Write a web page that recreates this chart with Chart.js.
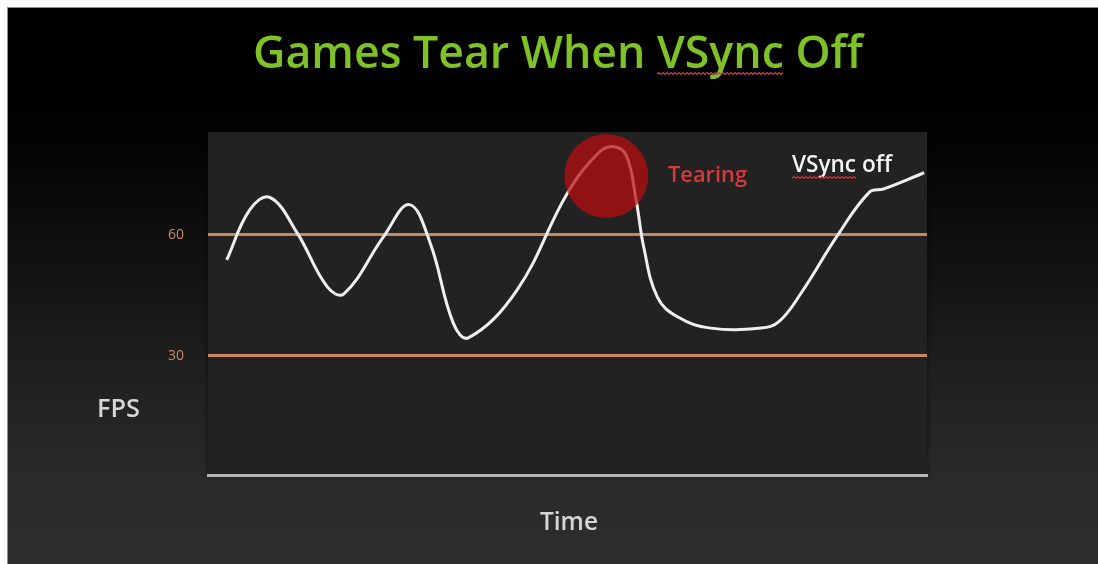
<!DOCTYPE html>
<html>
<head>
<meta charset="utf-8">
<script src="https://cdn.jsdelivr.net/npm/chart.js@4/dist/chart.umd.min.js"></script>
<style>
  html, body { margin: 0; padding: 0; overflow: hidden; }
  html { background: linear-gradient(to bottom, #ffffff 0px, #ffffff 7px, #8a8a8a 7px, #000000 8px, #020202 22%, #111111 45%, #1f1f1f 65%, #292929 82%, #2d2d2d 100%); min-height: 100%; }
  body { background: transparent; }
  canvas { position: absolute; left: 0; top: 0; }
</style>
</head>
<body>
<canvas id="c" width="1098" height="564"></canvas>
<script>
// ---- data ----
const timePoints = [2.6, 5.8, 8.6, 12.4, 16.6, 18.9, 24.4, 28.0, 30.9, 34.1, 36.2, 43.0, 50.0, 54.3, 56.3, 58.2, 59.6, 60.6, 62.5, 65.3, 69.9, 76.9, 79.4, 82.5, 87.6, 92.0, 94.0, 99.6];
const fpsValues  = [53.8, 66.2, 69.3, 60.5, 47.1, 45.4, 59.5, 67.5, 58.0, 38.2, 34.5, 46.4, 70.4, 80.3, 81.9, 79.6, 68.0, 57.0, 44.6, 39.7, 36.9, 36.9, 38.5, 45.6, 60.0, 70.6, 71.4, 75.4];
const yTickValues = [30, 60];
const tearingPoint = { time: 55.4, fps: 74.6 };
const titleText = "Games Tear When VSync Off";
const yLabelText = "FPS";
const xLabelText = "Time";
const tearingText = "Tearing";
const seriesText = "VSync off";

const lineData = timePoints.map((t, i) => ({ x: t, y: fpsValues[i] }));

function fitFont(ctx, text, weight, family, width) {
  ctx.font = weight + " 40px " + family;
  const w = ctx.measureText(text).width;
  const size = 40 * width / w;
  ctx.font = weight + " " + size.toFixed(2) + "px " + family;
  return size;
}
function wavy(ctx, x0, x1, y, color) {
  ctx.save();
  ctx.strokeStyle = color;
  ctx.lineWidth = 1.2;
  ctx.beginPath();
  let up = true;
  ctx.moveTo(x0, y);
  for (let x = x0 + 2; x <= x1; x += 2) {
    ctx.lineTo(x, up ? y - 1.5 : y + 0.5);
    up = !up;
  }
  ctx.stroke();
  ctx.restore();
}

const decor = {
  id: 'decor',
  beforeDraw(chart) {
    const { ctx, chartArea: a, width, height } = chart;
    ctx.save();
    ctx.fillStyle = '#ffffff';
    ctx.fillRect(0, 0, width, height);
    const g = ctx.createLinearGradient(0, 8, 0, height);
    g.addColorStop(0, '#000000');
    g.addColorStop(0.22, '#020202');
    g.addColorStop(0.45, '#111111');
    g.addColorStop(0.65, '#1f1f1f');
    g.addColorStop(0.82, '#292929');
    g.addColorStop(1, '#2d2d2d');
    ctx.fillStyle = '#8a8a8a';
    ctx.fillRect(7, 7, width - 7, height - 7);
    ctx.fillStyle = g;
    ctx.fillRect(8, 8, width - 8, height - 8);
    ctx.fillStyle = '#222222';
    ctx.shadowColor = 'rgba(0,0,0,0.6)';
    ctx.shadowBlur = 6;
    ctx.fillRect(a.left, a.top, a.right - a.left, a.bottom - a.top);
    ctx.restore();
  },
  afterDraw(chart) {
    const ctx = chart.ctx;
    ctx.save();
    ctx.textBaseline = 'alphabetic';
    ctx.textAlign = 'left';
    const fam = '"Open Sans", "DejaVu Sans", sans-serif';
    fitFont(ctx, titleText, '600', fam, 610);
    ctx.fillStyle = '#7fc226';
    ctx.fillText(titleText, 253, 68);
    const pre = ctx.measureText("Games Tear When ").width;
    const vs = ctx.measureText("VSync").width;
    wavy(ctx, 253 + pre, 253 + pre + vs, 74, '#c0404a');
    fitFont(ctx, tearingText, '600', fam, 79);
    ctx.fillStyle = '#d83a3c';
    ctx.fillText(tearingText, 668, 182);
    fitFont(ctx, seriesText, '600', fam, 100);
    ctx.fillStyle = '#f4f4f4';
    ctx.fillText(seriesText, 792, 172);
    const vs2 = ctx.measureText("VSync").width;
    wavy(ctx, 792, 792 + vs2, 178, '#d03038');
    fitFont(ctx, yLabelText, '600', fam, 43);
    ctx.fillStyle = '#d6d6d6';
    ctx.fillText(yLabelText, 97, 417);
    fitFont(ctx, xLabelText, '600', fam, 58);
    ctx.fillText(xLabelText, 540, 530);
    ctx.restore();
  }
};

new Chart(document.getElementById('c'), {
  type: 'line',
  data: {
    datasets: [
      {
        type: 'bubble',
        data: [{ x: tearingPoint.time, y: tearingPoint.fps }],
        backgroundColor: 'rgba(188,12,12,0.72)',
        borderWidth: 0,
        radius: 42,
        hoverRadius: 42,
        order: 0
      },
      {
        type: 'line',
        data: lineData,
        borderColor: '#efefef',
        borderWidth: 3,
        pointRadius: 0,
        tension: 0.4,
        fill: false,
        order: 1
      }
    ]
  },
  options: {
    responsive: false,
    animation: false,
    events: [],
    layout: { padding: { left: 0, top: 132, right: 171, bottom: 89 } },
    plugins: { legend: { display: false }, tooltip: { enabled: false }, title: { display: false } },
    scales: {
      x: {
        type: 'linear',
        min: 0, max: 100,
        ticks: { display: false },
        grid: { display: false, drawTicks: false },
        border: { display: true, color: '#b5b5b5', width: 3 },
        afterFit(s) { s.height = 0; }
      },
      y: {
        type: 'linear',
        min: 0.5, max: 85.5,
        afterBuildTicks(s) { s.ticks = yTickValues.map(v => ({ value: v })); },
        ticks: { color: '#c98a68', padding: 24, font: { family: '"Open Sans", sans-serif', size: 14 } },
        grid: { color: '#c8875c', lineWidth: 3, drawTicks: false },
        border: { display: false },
        afterFit(s) { s.width = 208; }
      }
    }
  },
  plugins: [decor]
});
</script>
</body>
</html>
